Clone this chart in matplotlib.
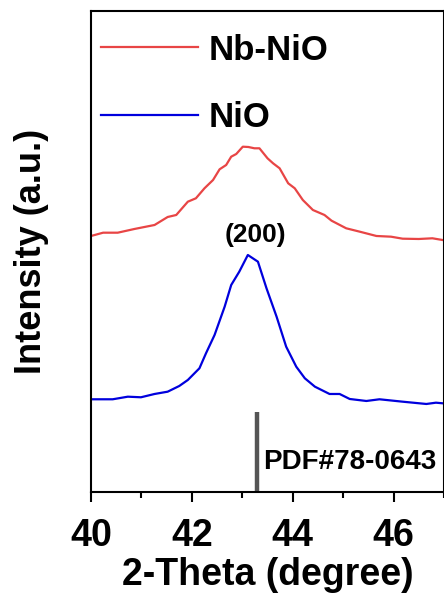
import matplotlib
matplotlib.use('Agg')
import matplotlib.pyplot as plt
from matplotlib.ticker import MultipleLocator

plt.rcParams['font.family'] = ['Liberation Sans', 'DejaVu Sans']
plt.rcParams['font.weight'] = 'bold'

# XRD patterns around the NiO (200) reflection, stacked with an offset
nb_nio_theta = [40.0, 40.24, 40.53, 40.86, 41.26, 41.52, 41.69, 41.92, 42.08, 42.25,
                42.42, 42.55, 42.68, 42.78, 42.88, 43.01, 43.12, 43.24, 43.34, 43.5,
                43.61, 43.74, 43.91, 44.04, 44.2, 44.4, 44.63, 44.77, 45.06, 45.33,
                45.66, 45.95, 46.18, 46.5, 46.77, 46.97]
nb_nio_int = [256, 259.3, 259.3, 263, 267, 275, 277, 290.3, 293.7, 303.7,
              312, 322.7, 327, 335.3, 338, 345.3, 345, 343.7, 343.7, 333.7,
              328.7, 323.7, 308.7, 303.7, 292, 282, 277, 271.3, 263.7, 260.3,
              256, 255.3, 253.3, 253, 253.7, 252]

nio_theta = [40.0, 40.43, 40.73, 40.99, 41.26, 41.52, 41.75, 41.92, 42.15, 42.28,
             42.45, 42.65, 42.78, 42.94, 43.11, 43.31, 43.48, 43.68, 43.87, 44.07,
             44.24, 44.44, 44.73, 44.93, 45.13, 45.46, 45.72, 46.18, 46.65, 46.84,
             46.97]
nio_int = [92.7, 92.7, 95.3, 94.7, 98, 100.3, 106, 112, 123.7, 138.7,
           157, 185.3, 207, 220.3, 237, 230.3, 203.7, 175.3, 145.3, 125.3,
           113.7, 105.3, 98, 98, 93, 91, 92.7, 90.3, 88, 89.3,
           88.7]

# standard card line
pdf_theta = 43.3
pdf_height = 80
pdf_label = 'PDF#78-0643'
peak_label = '(200)'
peak_label_y = 256.5

fig = plt.figure(figsize=(4.44, 6.01), dpi=100)
ax = fig.add_axes([0.205, 0.1814, 0.795, 0.8003])

ax.plot(nb_nio_theta, nb_nio_int, color='#E84545', lw=1.6, label='Nb-NiO')
ax.plot(nio_theta, nio_int, color='#0000DD', lw=1.6, label='NiO')
ax.vlines(pdf_theta, 0, pdf_height, color='#555555', lw=3.2)

ax.text(pdf_theta + 0.11, pdf_height * 0.38, pdf_label, fontsize=20,
        fontweight='bold', va='center', ha='left')
ax.text(43.27, peak_label_y, peak_label, fontsize=19, fontweight='bold',
        va='center', ha='center')

ax.set_xlim(40, 47)
ax.set_ylim(0, 481)
ax.set_yticks([])
ax.xaxis.set_major_locator(MultipleLocator(2))
ax.xaxis.set_minor_locator(MultipleLocator(1))
ax.tick_params(axis='x', which='major', direction='out', length=7, width=1.5,
               labelsize=27, pad=12)
ax.tick_params(axis='x', which='minor', direction='out', length=4, width=1.5)
for s in ax.spines.values():
    s.set_linewidth(1.5)

ax.set_xlabel('2-Theta (degree)', fontsize=27, fontweight='bold', labelpad=2)
ax.set_ylabel('Intensity (a.u.)', fontsize=26, fontweight='bold', labelpad=30)

leg = ax.legend(loc='upper left', bbox_to_anchor=(0.027, 0.953), frameon=False,
                borderpad=0, borderaxespad=0, handlelength=2.82, handletextpad=0.28,
                labelspacing=1.0, prop={'size': 25, 'weight': 'bold'})

fig.savefig('out.png', dpi=100)
